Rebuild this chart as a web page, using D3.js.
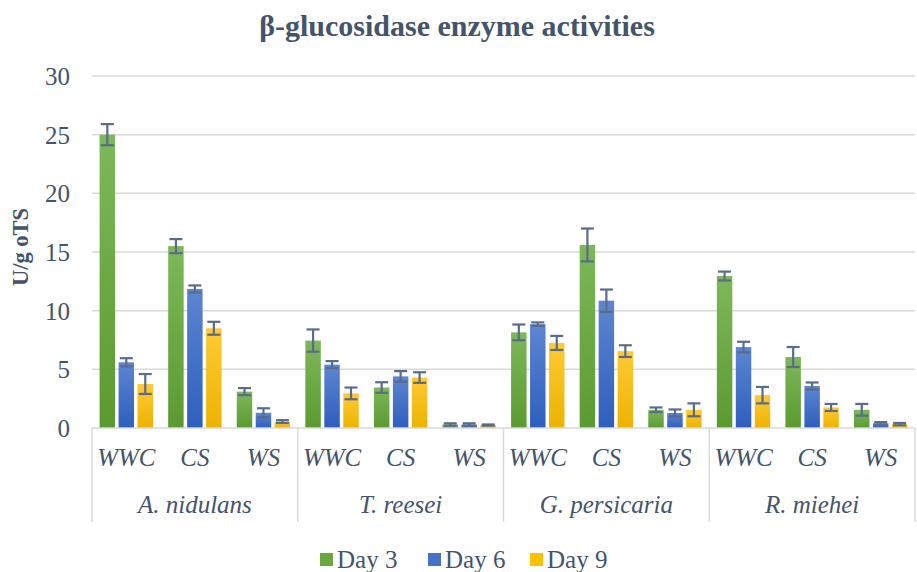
<!DOCTYPE html>
<html><head><meta charset="utf-8">
<script src="https://cdn.jsdelivr.net/npm/d3@7"></script>
<style>
body{margin:0;background:#fff}
svg{display:block}
svg text{font-family:"Liberation Serif","Times New Roman","DejaVu Serif",serif;}
</style>
</head><body>
<svg id="chart" width="917" height="572"></svg>
<script>
const organisms = ["A. nidulans","T. reesei","G. persicaria","R. miehei"];
const substrates = ["WWC","CS","WS"];
const days = ["Day 3","Day 6","Day 9"];
const day3 = [25.0,15.5,3.1, 7.45,3.45,0.3, 8.15,15.6,1.55, 12.95,6.05,1.55];
const day6 = [5.6,11.85,1.3, 5.4,4.4,0.3, 8.85,10.85,1.28, 6.9,3.58,0.4];
const day9 = [3.75,8.5,0.55, 2.95,4.3,0.25, 7.25,6.55,1.55, 2.8,1.75,0.33];
const err3 = [0.9,0.6,0.3, 0.95,0.45,0.1, 0.67,1.4,0.2, 0.38,0.85,0.5];
const err6 = [0.35,0.3,0.38, 0.3,0.45,0.1, 0.15,0.95,0.3, 0.45,0.3,0.1];
const err9 = [0.85,0.55,0.12, 0.5,0.45,0.05, 0.6,0.5,0.55, 0.7,0.3,0.1];
const yTicks = [0,5,10,15,20,25,30];

const values = [day3, day6, day9];
const errors = [err3, err6, err9];
const colors = [["#7db85a","#5b9a30"],["#5d86d2","#2e5ebd"],["#ffca35","#ecb300"]];
const legendColors = ["#69a83f","#4472c4","#ffc000"];
const textCol = "#44546a";

const svg = d3.select("#chart");
const L = 92, R = 915, T = 76, B = 428;
const y = d3.scaleLinear().domain([0,30]).range([B,T]);
const xg = d3.scaleBand().domain(organisms).range([L,R]).padding(0);
const xs = d3.scaleBand().domain(substrates).range([0,xg.bandwidth()]).padding(0);
const xd = d3.scaleBand().domain(days).range([0,xs.bandwidth()]).paddingInner(0.184).paddingOuter(0.4);

const defs = svg.append("defs");
colors.forEach((c,i)=>{
  const g = defs.append("linearGradient").attr("id","g"+i).attr("x1",0).attr("y1",0).attr("x2",0).attr("y2",1);
  g.append("stop").attr("offset","0%").attr("stop-color",c[0]);
  g.append("stop").attr("offset","100%").attr("stop-color",c[1]);
});

// title
svg.append("text").attr("x",457).attr("y",36).attr("text-anchor","middle")
  .attr("font-weight","bold").attr("font-size",30).attr("fill",textCol)
  .text("β-glucosidase enzyme activities");

// gridlines
svg.append("g").selectAll("line").data(yTicks.filter(d=>d>0)).join("line")
  .attr("x1",L).attr("x2",R).attr("y1",d=>y(d)).attr("y2",d=>y(d))
  .attr("stroke","#d9d9d9").attr("stroke-width",1.5);

// y axis labels
const yAxis = d3.axisLeft(y).tickValues(yTicks).tickSize(0).tickPadding(0);
const ya = svg.append("g").attr("transform",`translate(70,0)`).call(yAxis);
ya.select(".domain").remove();
ya.selectAll("text").attr("font-family",null).attr("font-size",25).attr("fill",textCol).attr("dy","0.34em");

svg.append("text").attr("transform","translate(28,247) rotate(-90)").attr("text-anchor","middle")
  .attr("font-weight","bold").attr("font-size",22.5).attr("fill",textCol)
  .text("U/g oTS");

// bars
const rows = [];
organisms.forEach((o,oi)=>substrates.forEach((s,si)=>days.forEach((d,di)=>{
  const idx = oi*3+si;
  rows.push({o,s,d,di,v:values[di][idx],e:errors[di][idx]});
})));
const x = r => xg(r.o)+xs(r.s)+xd(r.d);
svg.append("g").selectAll("rect").data(rows).join("rect")
  .attr("x",x).attr("width",xd.bandwidth())
  .attr("y",r=>y(r.v)).attr("height",r=>y(0)-y(r.v))
  .attr("fill",r=>`url(#g${r.di})`);

// error bars
const eb = svg.append("g").attr("stroke","#5a6c88").attr("stroke-width",2.2).attr("fill","none");
rows.forEach(r=>{
  const cx = x(r)+xd.bandwidth()/2, hw = 6.5;
  const y1 = y(r.v+r.e), y2 = y(Math.max(0,r.v-r.e));
  eb.append("line").attr("x1",cx).attr("x2",cx).attr("y1",y1).attr("y2",y2);
  eb.append("line").attr("x1",cx-hw).attr("x2",cx+hw).attr("y1",y1).attr("y2",y1);
  eb.append("line").attr("x1",cx-hw).attr("x2",cx+hw).attr("y1",y2).attr("y2",y2);
});

// x axis line & separators
svg.append("line").attr("x1",L).attr("x2",R).attr("y1",B).attr("y2",B).attr("stroke","#d9d9d9").attr("stroke-width",1.5);
const seps = organisms.map(o=>xg(o)).concat([R]);
svg.append("g").selectAll("line").data(seps).join("line")
  .attr("x1",d=>d).attr("x2",d=>d).attr("y1",B).attr("y2",522)
  .attr("stroke","#d9d9d9").attr("stroke-width",1.5);

// sub labels
const subs = [];
organisms.forEach(o=>substrates.forEach(s=>subs.push({o,s})));
svg.append("g").selectAll("text").data(subs).join("text")
  .attr("x",d=>xg(d.o)+xs(d.s)+xs.bandwidth()/2).attr("y",466)
  .attr("text-anchor","middle").attr("font-style","italic")
  .attr("font-size",25).attr("fill",textCol).text(d=>d.s);
svg.append("g").selectAll("text").data(organisms).join("text")
  .attr("x",d=>xg(d)+xg.bandwidth()/2).attr("y",513)
  .attr("text-anchor","middle").attr("font-style","italic")
  .attr("font-size",25).attr("fill",textCol).text(d=>d);

// legend
const legX = [320,428,530];
const lg = svg.append("g");
days.forEach((d,i)=>{
  lg.append("rect").attr("x",legX[i]).attr("y",553).attr("width",13).attr("height",13).attr("fill",legendColors[i]);
  lg.append("text").attr("x",legX[i]+17).attr("y",568).attr("font-size",25)
    .attr("fill",textCol).text(d);
});
</script>
</body></html>
